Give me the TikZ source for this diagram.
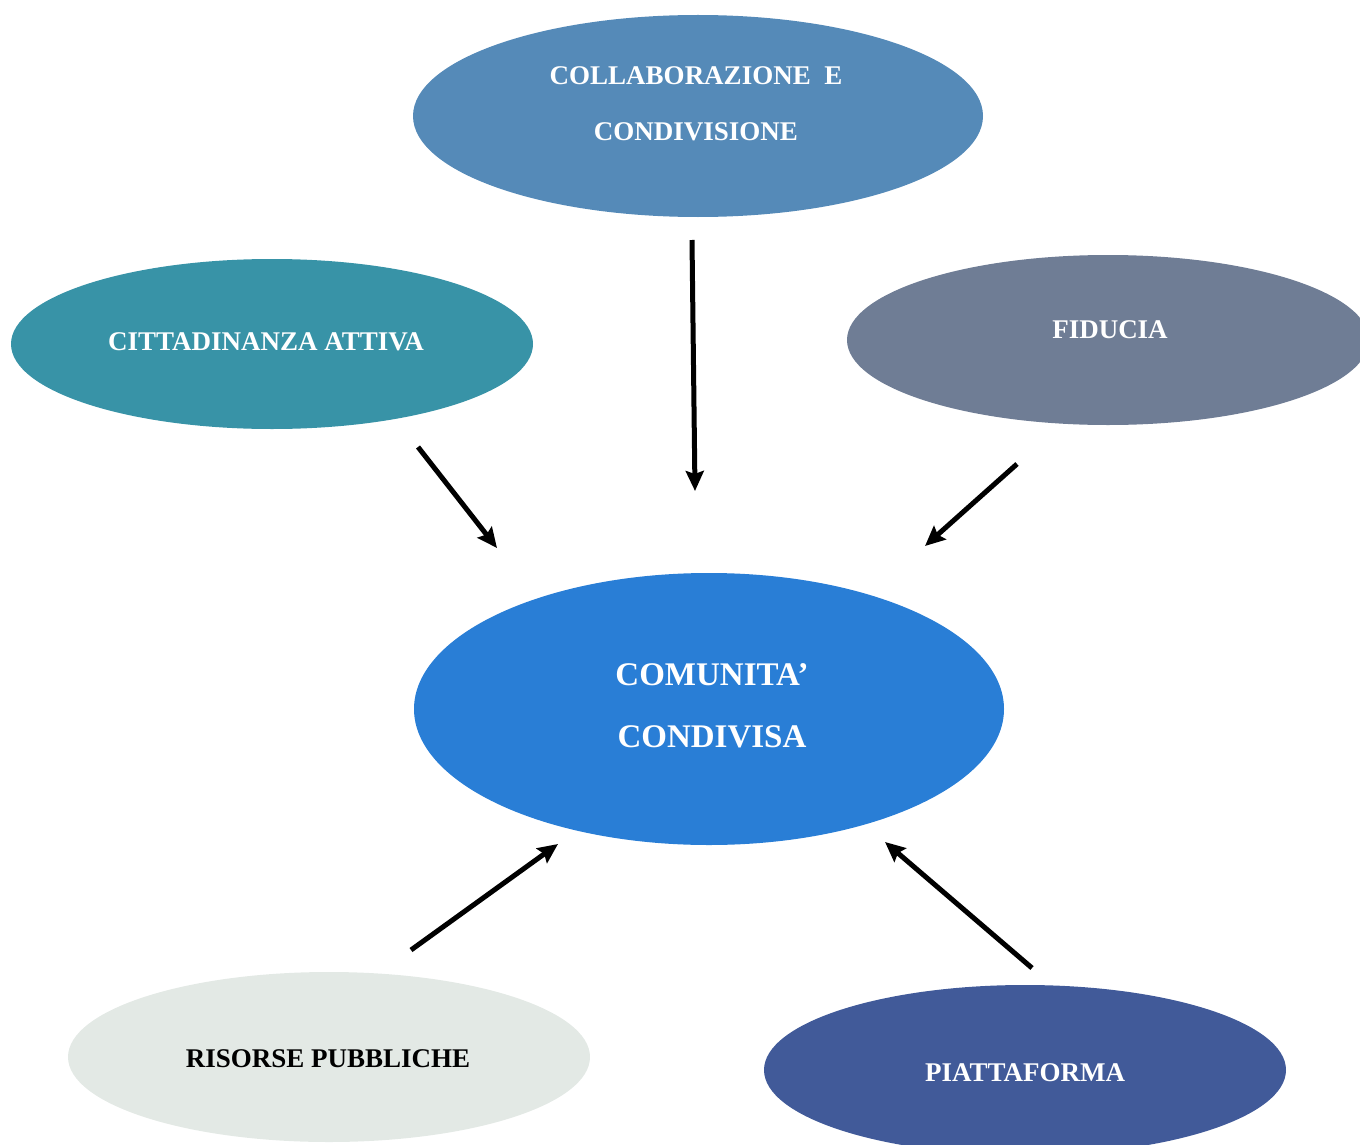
\documentclass[tikz,border=0pt]{standalone}
\usepackage{fontspec}
\setmainfont{Liberation Serif}
\usetikzlibrary{shapes.geometric,arrows.meta}

\definecolor{cTop}{HTML}{558AB8}
\definecolor{cLeft}{HTML}{3893A7}
\definecolor{cRight}{HTML}{6F7D95}
\definecolor{cCenter}{HTML}{297ED6}
\definecolor{cRes}{HTML}{E3E9E5}
\definecolor{cPiat}{HTML}{415A99}

\tikzset{
  blob/.style={ellipse, draw=none, inner sep=0pt},
  lbl/.style={font=\fontsize{27}{27}\selectfont\bfseries, text=white, inner sep=0pt},
  biglbl/.style={font=\fontsize{33}{33}\selectfont\bfseries, text=white, inner sep=0pt},
  flow/.style={line width=5pt, -{Stealth[length=20pt,width=18pt,inset=3pt]}}
}

\begin{document}
\begin{tikzpicture}[x=1pt,y=-1pt]
  \useasboundingbox (0,0) rectangle (1360,1145);
  \clip (0,0) rectangle (1360,1145);

  % ellipses
  \node[blob, fill=cTop, minimum width=570pt, minimum height=202pt] (top) at (698,116) {};
  \node[blob, fill=cLeft, minimum width=522pt, minimum height=170pt] (left) at (272,344) {};
  \node[blob, fill=cRight, minimum width=522pt, minimum height=170pt] (right) at (1108,340) {};
  \node[blob, fill=cCenter, minimum width=590pt, minimum height=272pt] (center) at (709,709) {};
  \node[blob, fill=cRes, minimum width=522pt, minimum height=170pt] (res) at (329,1057) {};
  \node[blob, fill=cPiat, minimum width=522pt, minimum height=170pt] (piat) at (1025,1070) {};

  % labels
  \node[lbl] (top-a) at (696,76) {COLLABORAZIONE\ \ E};
  \node[lbl] (top-b) at (696,132) {CONDIVISIONE};
  \node[lbl] (left-t) at (266,342) {CITTADINANZA ATTIVA};
  \node[lbl] (right-t) at (1110,330) {FIDUCIA};
  \node[biglbl] (center-a) at (712,675) {COMUNITA’};
  \node[biglbl] (center-b) at (712,737) {CONDIVISA};
  \node[lbl, text=black] (res-t) at (328,1059) {RISORSE PUBBLICHE};
  \node[lbl] (piat-t) at (1025,1073) {PIATTAFORMA};

  % arrow end points
  \coordinate (a1s) at (692,240);  \coordinate (a1e) at (695,491);
  \coordinate (a2s) at (418,447);  \coordinate (a2e) at (497,548);
  \coordinate (a3s) at (1017,464); \coordinate (a3e) at (925,546);
  \coordinate (a4s) at (411,950);  \coordinate (a4e) at (558,844);
  \coordinate (a5s) at (1032,968); \coordinate (a5e) at (885,842);

  \draw[flow] (a1s) -- (a1e);
  \draw[flow] (a2s) -- (a2e);
  \draw[flow] (a3s) -- (a3e);
  \draw[flow] (a4s) -- (a4e);
  \draw[flow] (a5s) -- (a5e);
\end{tikzpicture}
\end{document}
